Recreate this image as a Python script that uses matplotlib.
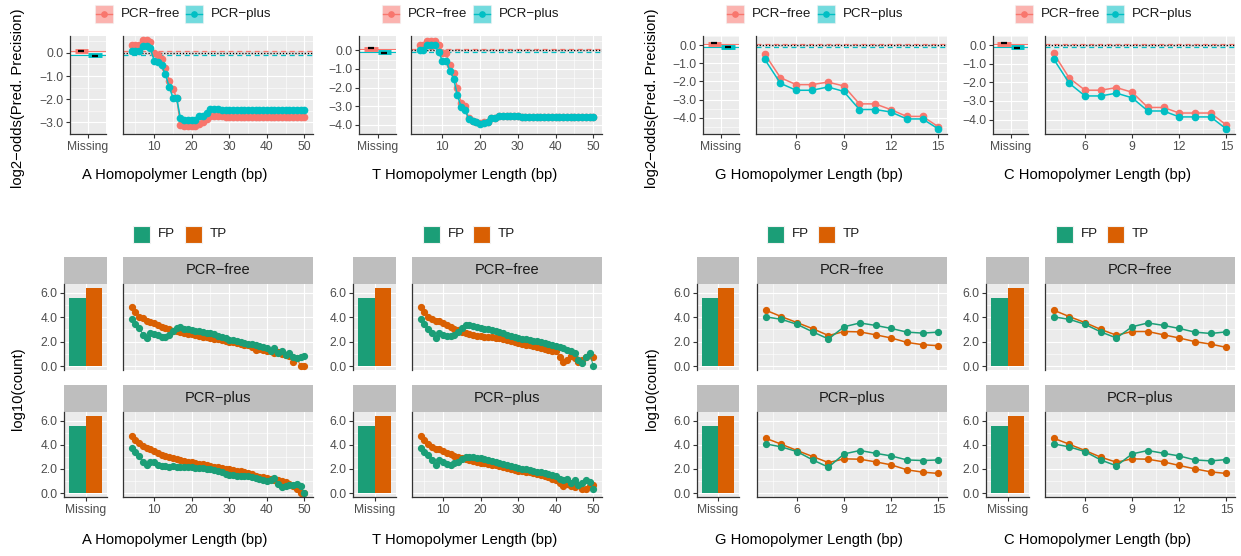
import matplotlib.pyplot as plt
from matplotlib.patches import Rectangle

plt.rcParams['font.family'] = ['Liberation Sans', 'DejaVu Sans']

# ---- data -------------------------------------------------------------
len_at = list(range(4, 51))      # A / T homopolymer lengths
len_gc = list(range(4, 16))      # G / C homopolymer lengths

# log2-odds of predicted precision (top row)
miss_free = 0.08
miss_plus = -0.09

a_free = [0.33, 0.33, 0.36, 0.57, 0.57, 0.46, 0.00, -0.07, -0.25, -0.64, -1.20, -1.57,
          -1.93, -3.10, -3.15, -3.17, -3.17, -3.17, -3.08, -2.97, -2.86, -2.72, -2.72,
          -2.72, -2.74, -2.76, -2.76, -2.76, -2.76, -2.76, -2.76, -2.76, -2.76, -2.76,
          -2.76, -2.76, -2.76, -2.76, -2.76, -2.76, -2.76, -2.76, -2.76, -2.76, -2.76,
          -2.76, -2.76]
a_plus = [0.07, 0.07, 0.10, 0.31, 0.31, 0.20, -0.33, -0.40, -0.54, -0.93, -1.46, -1.93,
          -1.96, -2.83, -2.88, -2.88, -2.88, -2.88, -2.74, -2.72, -2.61, -2.43, -2.43,
          -2.43, -2.45, -2.47, -2.47, -2.47, -2.47, -2.47, -2.47, -2.47, -2.47, -2.47,
          -2.47, -2.47, -2.47, -2.47, -2.47, -2.47, -2.47, -2.47, -2.47, -2.47, -2.47,
          -2.47, -2.47]
t_free = [0.26, 0.26, 0.48, 0.48, 0.50, 0.26, -0.17, -0.17, -0.80, -1.23, -2.03, -2.84,
          -3.01, -3.66, -3.78, -3.86, -3.93, -3.88, -3.83, -3.63, -3.63, -3.52, -3.52,
          -3.52, -3.52, -3.52, -3.52, -3.59, -3.59, -3.59, -3.59, -3.59, -3.59, -3.59,
          -3.59, -3.59, -3.59, -3.59, -3.59, -3.59, -3.59, -3.59, -3.59, -3.59, -3.59,
          -3.59, -3.59]
t_plus = [0.02, 0.00, 0.26, 0.26, 0.26, -0.09, -0.55, -0.55, -1.10, -1.53, -2.42, -3.05,
          -3.22, -3.70, -3.80, -3.88, -3.96, -3.90, -3.85, -3.64, -3.63, -3.55, -3.53,
          -3.53, -3.53, -3.53, -3.53, -3.60, -3.60, -3.60, -3.60, -3.60, -3.60, -3.60,
          -3.60, -3.60, -3.60, -3.60, -3.60, -3.60, -3.60, -3.60, -3.60, -3.60, -3.60,
          -3.60, -3.60]
g_free = [-0.49, -1.80, -2.18, -2.18, -2.04, -2.25, -3.24, -3.24, -3.56, -3.93, -3.93, -4.50]
g_plus = [-0.78, -2.11, -2.49, -2.49, -2.31, -2.55, -3.55, -3.55, -3.69, -4.07, -4.07, -4.62]
c_free = [-0.44, -1.77, -2.42, -2.42, -2.28, -2.53, -3.35, -3.35, -3.65, -3.65, -3.65, -4.30]
c_plus = [-0.74, -2.05, -2.73, -2.73, -2.58, -2.83, -3.54, -3.54, -3.86, -3.86, -3.86, -4.51]

# log10(count) of FP / TP calls (bottom row)
miss_fp = 5.6
miss_tp = 6.4

a_free_fp = [3.83, 3.47, 3.14, 2.58, 2.30, 2.67, 2.64, 2.58, 2.40, 2.40, 2.53, 2.86, 3.14,
             3.17, 3.05, 3.00, 2.95, 2.90, 2.85, 2.80, 2.72, 2.67, 2.60, 2.50, 2.40, 2.28,
             2.17, 2.10, 2.05, 1.98, 1.90, 1.83, 1.78, 1.70, 1.62, 1.55, 1.47, 1.20, 1.50,
             1.10, 1.25, 0.90, 1.10, 0.78, 0.70, 0.78, 0.83]
a_free_tp = [4.80, 4.40, 4.05, 3.90, 3.70, 3.60, 3.55, 3.40, 3.20, 3.10, 3.00, 2.90, 2.85,
             2.78, 2.72, 2.66, 2.60, 2.55, 2.48, 2.42, 2.36, 2.30, 2.25, 2.18, 2.12, 2.06,
             2.00, 1.95, 1.88, 1.82, 1.76, 1.70, 1.55, 1.30, 1.40, 1.30, 1.25, 1.20, 1.05,
             1.15, 0.95, 0.90, 0.85, 0.35, 0.65, 0.00, 0.00]
a_plus_fp = [3.72, 3.44, 3.08, 2.62, 2.34, 2.62, 2.62, 2.34, 2.26, 2.22, 2.20, 2.22, 2.20,
             2.18, 2.20, 2.17, 2.15, 2.12, 2.08, 2.05, 2.02, 1.98, 1.92, 1.85, 1.75, 1.62,
             1.50, 1.48, 1.45, 1.42, 1.40, 1.38, 1.30, 1.22, 1.15, 1.08, 1.00, 1.10, 1.24,
             0.77, 0.50, 0.60, 0.65, 0.70, 0.77, 0.60, 0.00]
a_plus_tp = [4.77, 4.40, 4.13, 3.90, 3.70, 3.66, 3.50, 3.36, 3.20, 3.10, 3.00, 2.87, 2.80,
             2.74, 2.68, 2.62, 2.56, 2.50, 2.44, 2.38, 2.32, 2.26, 2.20, 2.15, 2.09, 2.04,
             1.98, 1.92, 1.87, 1.81, 1.76, 1.70, 1.55, 1.45, 1.35, 1.30, 1.24, 1.18, 1.10,
             1.05, 1.00, 0.96, 0.75, 0.55, 0.36, 0.00, 0.00]
t_free_fp = [3.83, 3.42, 3.05, 2.67, 2.30, 2.67, 2.58, 2.50, 2.50, 2.58, 2.78, 3.14, 3.33,
             3.33, 3.28, 3.20, 3.14, 3.07, 3.00, 2.93, 2.86, 2.78, 2.68, 2.58, 2.49, 2.40,
             2.30, 2.25, 2.20, 2.14, 2.08, 2.03, 1.96, 1.88, 1.81, 1.74, 1.67, 1.55, 1.45,
             1.35, 1.25, 1.10, 0.50, 0.28, 0.78, 1.05, 0.00]
t_free_tp = [4.80, 4.44, 4.05, 3.83, 3.70, 3.70, 3.50, 3.33, 3.17, 3.00, 2.92, 2.80, 2.72,
             2.64, 2.56, 2.50, 2.44, 2.41, 2.38, 2.35, 2.32, 2.30, 2.22, 2.14, 2.06, 1.98,
             1.90, 1.83, 1.76, 1.69, 1.62, 1.55, 1.48, 1.41, 1.34, 1.27, 1.20, 0.78, 0.36,
             0.50, 0.83, 0.64, 0.36, 0.50, 0.78, 0.92, 0.72]
t_plus_fp = [3.72, 3.44, 3.17, 2.75, 2.34, 2.75, 2.62, 2.42, 2.34, 2.48, 2.59, 2.80, 2.97,
             3.03, 2.97, 2.92, 2.87, 2.79, 2.72, 2.64, 2.56, 2.48, 2.40, 2.32, 2.23, 2.15,
             2.07, 2.01, 1.96, 1.90, 1.85, 1.79, 1.72, 1.65, 1.57, 1.50, 1.43, 1.20, 1.10,
             1.20, 0.83, 1.10, 0.69, 0.83, 1.05, 0.96, 0.33]
t_plus_tp = [4.77, 4.40, 4.08, 3.86, 3.66, 3.66, 3.50, 3.36, 3.22, 3.08, 2.97, 2.87, 2.80,
             2.73, 2.67, 2.60, 2.53, 2.48, 2.42, 2.37, 2.31, 2.26, 2.18, 2.10, 2.02, 1.95,
             1.87, 1.82, 1.76, 1.71, 1.65, 1.60, 1.50, 1.40, 1.30, 1.20, 1.10, 0.83, 0.60,
             0.77, 0.60, 0.50, 0.69, 0.33, 0.33, 0.60, 0.69]
g_free_fp = [4.03, 3.83, 3.42, 2.80, 2.22, 3.22, 3.53, 3.33, 3.08, 2.78, 2.70, 2.78]
g_free_tp = [4.58, 4.05, 3.56, 3.06, 2.50, 2.83, 2.80, 2.56, 2.30, 1.94, 1.75, 1.67]
g_plus_fp = [4.08, 3.83, 3.44, 2.75, 2.15, 3.25, 3.53, 3.30, 3.08, 2.75, 2.70, 2.75]
g_plus_tp = [4.55, 4.05, 3.53, 3.03, 2.53, 2.84, 2.81, 2.59, 2.34, 1.93, 1.74, 1.63]
c_free_fp = [4.03, 3.83, 3.42, 2.80, 2.30, 3.22, 3.53, 3.33, 3.08, 2.78, 2.67, 2.80]
c_free_tp = [4.58, 4.05, 3.56, 3.00, 2.53, 2.83, 2.83, 2.56, 2.30, 2.00, 1.80, 1.53]
c_plus_fp = [4.08, 3.83, 3.44, 2.75, 2.26, 3.25, 3.53, 3.30, 3.08, 2.75, 2.67, 2.78]
c_plus_tp = [4.55, 4.05, 3.53, 2.98, 2.56, 2.84, 2.81, 2.59, 2.29, 2.01, 1.76, 1.63]

# ---- style ------------------------------------------------------------
PINK, TEAL = '#F8766D', '#00BFC4'
GREEN, ORANGE = '#1B9E77', '#D95F02'
BG, STRIP = '#EBEBEB', '#BEBEBE'
AXC, TXT = '#333333', '#4D4D4D'
MINUS = '\u2212'

W, H = 1241, 556
fig = plt.figure(figsize=(W / 100, H / 100), dpi=100)

# full-figure overlay in pixel units for legends and titles
ov = fig.add_axes([0, 0, 1, 1])
ov.set_xlim(0, W)
ov.set_ylim(H, 0)
ov.axis('off')


def box(l, t, r, b):
    return [l / W, 1 - b / H, (r - l) / W, (b - t) / H]


def fmt(v):
    return f'{v:.1f}'.replace('-', MINUS)


def panel(ax, xlim, ylim, xmaj, xmin, ymaj, ymin, xlab=None, ylab=True, bottom=True):
    ax.set_facecolor(BG)
    ax.set_xlim(xlim)
    ax.set_ylim(ylim)
    ax.set_xticks(xmaj)
    ax.set_xticks(xmin, minor=True)
    ax.set_yticks(ymaj)
    ax.set_yticks(ymin, minor=True)
    ax.grid(which='major', color='white', lw=0.8)
    ax.grid(which='minor', color='white', lw=0.4)
    ax.set_axisbelow(True)
    for s in ('top', 'right'):
        ax.spines[s].set_visible(False)
    ax.spines['left'].set_color(AXC)
    ax.spines['left'].set_linewidth(0.9)
    ax.spines['bottom'].set_color(AXC)
    ax.spines['bottom'].set_linewidth(0.9)
    ax.spines['bottom'].set_visible(bottom)
    ax.tick_params(which='minor', length=0)
    ax.tick_params(which='major', length=2.7, width=0.8, color=AXC,
                   labelsize=8.7, labelcolor=TXT, pad=2.2)
    if ylab:
        ax.set_yticklabels([fmt(v) for v in ymaj])
    else:
        ax.tick_params(axis='y', length=0, labelleft=False)
    if bottom and xlab is not None:
        ax.set_xticklabels(xlab)
    else:
        ax.tick_params(axis='x', length=0, labelbottom=False)


def key_line(x, y, color, label):
    ov.add_patch(Rectangle((x, y - 9), 18, 18, facecolor=color, alpha=0.55,
                           edgecolor='#F2F2F2', lw=0.8))
    ov.plot([x + 1, x + 17], [y, y], color=color, lw=1.0)
    ov.plot(x + 9, y, 'o', color=color, ms=3.8)
    ov.text(x + 26, y, label, fontsize=9.6, color='#1A1A1A', va='center', ha='left')


def key_fill(x, y, color, label):
    ov.add_patch(Rectangle((x, y - 8.5), 17, 17, facecolor=color,
                           edgecolor='#F2F2F2', lw=0.8))
    ov.text(x + 25, y, label, fontsize=9.6, color='#1A1A1A', va='center', ha='left')


# ---- top row: predicted precision ---------------------------------------
top_sets = [
    dict(base='A', xs=len_at, free=a_free, plus=a_plus, ylim=(-3.47, 0.73),
         ymaj=[0, -1, -2, -3], miss=(70, 106), main=(123, 313), key=95, key2=185,
         xc=175),
    dict(base='T', xs=len_at, free=t_free, plus=t_plus, ylim=(-4.24, 0.77),
         ymaj=[0, -1, -2, -3, -4], miss=(359, 396), main=(411, 602), key=382, key2=473,
         xc=465),
    dict(base='G', xs=len_gc, free=g_free, plus=g_plus, ylim=(-4.90, 0.40),
         ymaj=[0, -1, -2, -3, -4], miss=(703, 739), main=(756, 947), key=726, key2=817,
         xc=809),
    dict(base='C', xs=len_gc, free=c_free, plus=c_plus, ylim=(-4.78, 0.39),
         ymaj=[0, -1, -2, -3, -4], miss=(993, 1028), main=(1045, 1235), key=1015, key2=1106,
         xc=1098),
]

for d in top_sets:
    y0, y1 = d['ylim']
    ymin = [v - 0.5 for v in d['ymaj']] + [d['ymaj'][0] + 0.5]
    if d['xs'] is len_at:
        xlim, xmaj, xmin = (1.7, 52.3), [10, 20, 30, 40, 50], [5, 15, 25, 35, 45]
    else:
        xlim, xmaj, xmin = (3.45, 15.55), [6, 9, 12, 15], [4.5, 7.5, 10.5, 13.5]

    am = fig.add_axes(box(d['miss'][0], 36, d['miss'][1], 134))
    panel(am, (0.4, 1.6), (y0, y1), [1], [], d['ymaj'], ymin, xlab=['Missing'])
    am.axhline(miss_free, color=PINK, lw=0.8)
    am.axhline(miss_plus, color=TEAL, lw=0.8)
    am.plot([0.55, 1.0], [miss_free, miss_free], color=PINK, lw=3.5, solid_capstyle='butt')
    am.plot([1.0, 1.45], [miss_plus, miss_plus], color=TEAL, lw=3.5, solid_capstyle='butt')
    am.plot(0.775, miss_free + 0.02, marker='_', color='black', ms=4, mew=1.6)
    am.plot(1.225, miss_plus - 0.03, marker='_', color='black', ms=4, mew=1.6)

    ax = fig.add_axes(box(d['main'][0], 36, d['main'][1], 134))
    panel(ax, xlim, (y0, y1), xmaj, xmin, d['ymaj'], ymin,
          xlab=[str(v) for v in xmaj], ylab=False)
    ax.axhspan(miss_plus, miss_free, color='#CFCFCF', alpha=0.6, lw=0)
    ax.axhline(miss_free, color=PINK, lw=0.9, ls=(0, (4, 3)))
    ax.axhline(miss_plus, color=TEAL, lw=0.9, ls=(0, (4, 3)))
    ax.axhline(0, color='black', lw=0.9, ls=(0, (1, 1.5)))
    ax.plot(d['xs'], d['free'], '-o', color=PINK, lw=1.1, ms=4.5)
    ax.plot(d['xs'], d['plus'], '-o', color=TEAL, lw=1.1, ms=4.5)

    key_line(d['key'], 14, PINK, f'PCR{MINUS}free')
    key_line(d['key2'], 14, TEAL, f'PCR{MINUS}plus')
    ov.text(d['xc'], 175, f'{d["base"]} Homopolymer Length (bp)', fontsize=10.6,
            color='black', ha='center', va='center')

ov.text(18, 98, f'log2{MINUS}odds(Pred. Precision)', fontsize=10.6, rotation=90,
        ha='center', va='center')
ov.text(652, 98, f'log2{MINUS}odds(Pred. Precision)', fontsize=10.6, rotation=90,
        ha='center', va='center')

# ---- bottom row: FP / TP counts --------------------------------------------
bot_sets = [
    dict(base='A', xs=len_at, miss=(64, 107), main=(123, 313), key=133, key2=185, xc=175,
         free=(a_free_fp, a_free_tp), plus=(a_plus_fp, a_plus_tp)),
    dict(base='T', xs=len_at, miss=(353, 396), main=(412, 602), key=423, key2=473, xc=465,
         free=(t_free_fp, t_free_tp), plus=(t_plus_fp, t_plus_tp)),
    dict(base='G', xs=len_gc, miss=(697, 739), main=(757, 947), key=767, key2=818, xc=809,
         free=(g_free_fp, g_free_tp), plus=(g_plus_fp, g_plus_tp)),
    dict(base='C', xs=len_gc, miss=(986, 1029), main=(1045, 1235), key=1056, key2=1107,
         xc=1098, free=(c_free_fp, c_free_tp), plus=(c_plus_fp, c_plus_tp)),
]
facets = [(f'PCR{MINUS}free', 'free', 257, 284, 370, False),
          (f'PCR{MINUS}plus', 'plus', 385, 412, 497, True)]
ylim_b = (-0.32, 6.72)
ymaj_b, ymin_b = [0, 2, 4, 6], [1, 3, 5]

for d in bot_sets:
    if d['xs'] is len_at:
        xlim, xmaj, xmin = (1.7, 52.3), [10, 20, 30, 40, 50], [5, 15, 25, 35, 45]
        lw = 0.7
    else:
        xlim, xmaj, xmin = (3.45, 15.55), [6, 9, 12, 15], [4.5, 7.5, 10.5, 13.5]
        lw = 1.1
    for title, k, st, pt, pb, last in facets:
        # strips
        for (l, r), txt in ((d['miss'], ''), (d['main'], title)):
            sa = fig.add_axes(box(l, st, r, pt))
            sa.set_facecolor(STRIP)
            sa.set_xticks([])
            sa.set_yticks([])
            for s in sa.spines.values():
                s.set_visible(False)
            if txt:
                sa.text(0.5, 0.5, txt, transform=sa.transAxes, ha='center', va='center',
                        fontsize=10.5, color='#1A1A1A')

        am = fig.add_axes(box(d['miss'][0], pt, d['miss'][1], pb))
        panel(am, (0.4, 1.6), ylim_b, [1], [], ymaj_b, ymin_b, xlab=['Missing'],
              bottom=last)
        am.bar([0.775, 1.225], [miss_fp, miss_tp], width=0.45, color=[GREEN, ORANGE])

        ax = fig.add_axes(box(d['main'][0], pt, d['main'][1], pb))
        panel(ax, xlim, ylim_b, xmaj, xmin, ymaj_b, ymin_b,
              xlab=[str(v) for v in xmaj], ylab=False, bottom=last)
        fp, tp = d[k]
        ax.plot(d['xs'], tp, '-o', color=ORANGE, lw=lw, ms=4.2)
        ax.plot(d['xs'], fp, '-o', color=GREEN, lw=lw, ms=4.2)

    key_fill(d['key'], 234, GREEN, 'FP')
    key_fill(d['key2'], 234, ORANGE, 'TP')
    ov.text(d['xc'], 540, f'{d["base"]} Homopolymer Length (bp)', fontsize=10.6,
            color='black', ha='center', va='center')

ov.text(18, 389, 'log10(count)', fontsize=10.6, rotation=90, ha='center', va='center')
ov.text(652, 389, 'log10(count)', fontsize=10.6, rotation=90, ha='center', va='center')

fig.savefig('out.png', dpi=100, facecolor='white')
